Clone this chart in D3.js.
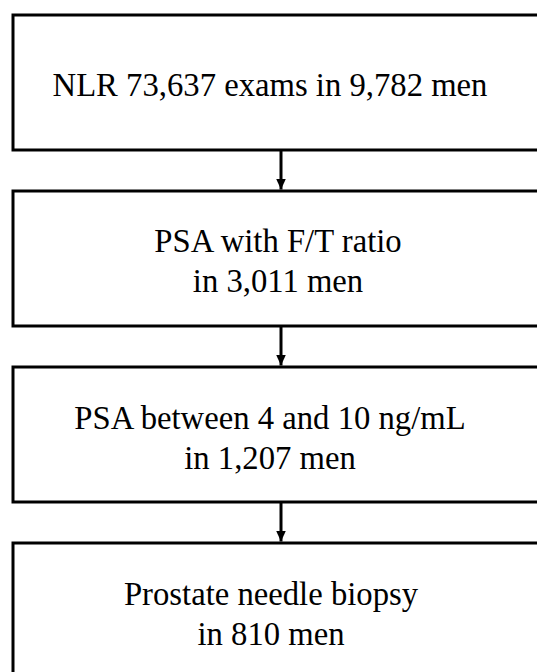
<!DOCTYPE html>
<html>
<head>
<meta charset="utf-8">
<script src="https://cdn.jsdelivr.net/npm/d3@7"></script>
<style>
  body { margin: 0; background: #fff; }
  svg { display: block; }
</style>
</head>
<body>
<div id="container"></div>
<script>
var width = 537,
    height = 672;

// flow steps
var steps = ['s1', 's2', 's3', 's4'];
var stepLines = [
    ['NLR 73,637 exams in 9,782 men'],
    ['PSA with F/T ratio', 'in 3,011 men'],
    ['PSA between 4 and 10 ng/mL', 'in 1,207 men'],
    ['Prostate needle biopsy', 'in 810 men']
];

var svg = d3.select('#container')
    .append('svg')
    .attr('width', width)
    .attr('height', height)

// arrow head, drawn along +x so orient=auto turns it down the line
svg.append('defs')
    .append('marker')
    .attr('id', 'arrow')
    .attr('viewBox', '0 0 11 10')
    .attr('refX', 11)
    .attr('refY', 5)
    .attr('markerWidth', 11)
    .attr('markerHeight', 10)
    .attr('markerUnits', 'userSpaceOnUse')
    .attr('orient', 'auto')
    .append('path')
    .attr('d', 'M0,0 L11,5 L0,10 Z')
    .attr('fill', '#000')

var scale_y = d3.scaleBand()
    .domain(steps)
    .range([15, 678])
    .paddingInner(0.233)
    .paddingOuter(0)

var boxLeft = 13, boxRight = 549;
var arrowX = 281;
// text centres are a little off-centre in the original drawing
var textShift = { s1: 0, s2: 8, s3: 0, s4: 1 };

var g = svg.append('g')

var box = g.selectAll('g.step')
    .data(steps)
    .enter()
    .append('g')
    .attr('class', 'step')

box.append('rect')
    .attr('x', boxLeft)
    .attr('y', function (d) { return scale_y(d); })
    .attr('width', boxRight - boxLeft)
    .attr('height', scale_y.bandwidth())
    .attr('fill', 'none')
    .attr('stroke', '#000')
    .attr('stroke-width', 3)

box.each(function (d, i) {
    var lines = stepLines[i];
    var cy = scale_y(d) + scale_y.bandwidth() / 2;
    d3.select(this).selectAll('text')
        .data(lines)
        .enter()
        .append('text')
        .attr('x', 270 + textShift[d])
        .attr('y', function (t, j) { return cy + 14 + (j - (lines.length - 1) / 2) * 40; })
        .attr('text-anchor', 'middle')
        .attr('font-family', '"Liberation Serif", "Times New Roman", serif')
        .attr('font-size', 32.7)
        .attr('fill', '#000')
        .text(function (t) { return t; })
})

// arrows between boxes
g.selectAll('line.arrow')
    .data(steps.slice(1))
    .enter()
    .append('line')
    .attr('class', 'arrow')
    .attr('x1', arrowX)
    .attr('x2', arrowX)
    .attr('y1', function (d, i) { return scale_y(steps[i]) + scale_y.bandwidth(); })
    .attr('y2', function (d) { return scale_y(d) - 1.5; })
    .attr('stroke', '#000')
    .attr('stroke-width', 3)
    .attr('marker-end', 'url(#arrow)')
</script>
</body>
</html>
